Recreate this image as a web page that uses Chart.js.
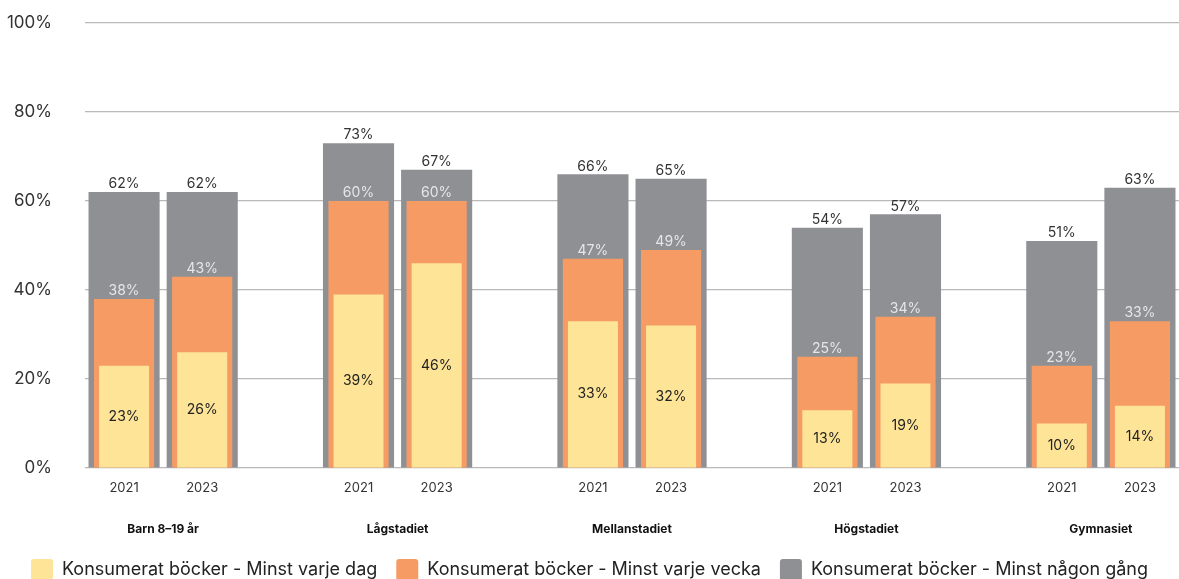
<!DOCTYPE html>
<html>
<head>
<meta charset="utf-8">
<script src="https://cdn.jsdelivr.net/npm/chart.js@4"></script>
<style>
  html, body { margin: 0; padding: 0; background: #fff; }
  #wrap { width: 1179px; height: 579px; position: relative; }
</style>
</head>
<body>
<div id="wrap"><canvas id="chart"></canvas></div>
<script>
// categories: 2 years per group, empty slot between groups
var years = ['2021', '2023', '', '2021', '2023', '', '2021', '2023', '', '2021', '2023', '', '2021', '2023'];
var groups = ['Barn 8\u201319 år', 'Lågstadiet', 'Mellanstadiet', 'Högstadiet', 'Gymnasiet'];

var daily  = [23, 26, null, 39, 46, null, 33, 32, null, 13, 19, null, 10, 14];
var weekly = [38, 43, null, 60, 60, null, 47, 49, null, 25, 34, null, 23, 33];
var any    = [62, 62, null, 73, 67, null, 66, 65, null, 54, 57, null, 51, 63];

var yTicks = [0, 20, 40, 60, 80, 100];

var FONT = 'Inter, "Noto Sans", sans-serif';

// value labels: yellow centred, orange + gray above the bar top
var valueLabels = {
    id: 'valueLabels',
    afterDatasetsDraw: function(chart) {
        var ctx = chart.ctx;
        ctx.save();
        ctx.font = '14px ' + FONT;
        ctx.textAlign = 'center';
        chart.data.datasets.forEach(function(ds, di) {
            var meta = chart.getDatasetMeta(di);
            meta.data.forEach(function(bar, i) {
                var v = ds.data[i];
                if (v == null) return;
                if (di === 0) {
                    ctx.fillStyle = '#222';
                    ctx.textBaseline = 'middle';
                    ctx.fillText(v + '%', bar.x, (bar.y + bar.base) / 2);
                } else {
                    ctx.fillStyle = di === 1 ? '#e6e6e6' : '#333';
                    ctx.textBaseline = 'bottom';
                    ctx.fillText(v + '%', bar.x, bar.y - 1);
                }
            });
        });
        ctx.restore();
    }
};

// group names under the year ticks
var groupLabels = {
    id: 'groupLabels',
    afterDraw: function(chart) {
        var ctx = chart.ctx;
        var xs = chart.scales.x;
        ctx.save();
        ctx.font = 'bold 12px ' + FONT;
        ctx.fillStyle = '#111';
        ctx.textAlign = 'center';
        ctx.textBaseline = 'middle';
        groups.forEach(function(g, i) {
            var x = (xs.getPixelForValue(i * 3) + xs.getPixelForValue(i * 3 + 1)) / 2;
            ctx.fillText(g, x, xs.top + 61);
        });
        ctx.restore();
    }
};

var data = {
    labels: years,
    datasets: [
        {
            label: 'Konsumerat böcker - Minst varje dag',
            data: daily,
            backgroundColor: '#fde497',
            barPercentage: 0.64,
            categoryPercentage: 1,
            grouped: false
        },
        {
            label: 'Konsumerat böcker - Minst varje vecka',
            data: weekly,
            backgroundColor: '#f79b65',
            barPercentage: 0.77,
            categoryPercentage: 1,
            grouped: false
        },
        {
            label: 'Konsumerat böcker - Minst någon gång',
            data: any,
            backgroundColor: '#8e9094',
            barPercentage: 0.91,
            categoryPercentage: 1,
            grouped: false
        }
    ]
};

new Chart(document.getElementById('chart'), {
    type: 'bar',
    data: data,
    options: {
        responsive: true,
        maintainAspectRatio: false,
        animation: false,
        layout: { padding: { top: 23, right: 0, left: 0, bottom: -12 } },
        plugins: {
            legend: {
                position: 'bottom',
                labels: {
                    boxWidth: 22,
                    boxHeight: 22,
                    useBorderRadius: true,
                    borderRadius: 3,
                    padding: 19,
                    color: '#222',
                    font: { family: FONT, size: 18 }
                }
            },
            tooltip: { enabled: false }
        },
        scales: {
            x: {
                grid: { display: false },
                border: { display: false },
                ticks: {
                    color: '#333',
                    padding: 4,
                    maxRotation: 0,
                    autoSkip: false,
                    font: { family: FONT, size: 13 }
                },
                afterFit: function(scale) { scale.height = 72; }
            },
            y: {
                min: 0,
                max: 100,
                afterBuildTicks: function(scale) {
                    scale.ticks = yTicks.map(function(v) { return { value: v }; });
                },
                grid: { color: '#b9b9b9', lineWidth: 1.2, drawTicks: true, tickLength: 33, tickColor: 'rgba(0,0,0,0)' },
                border: { display: false },
                ticks: {
                    color: '#333',
                    padding: 0,
                    font: { family: FONT, size: 17 },
                    callback: function(v) { return v + '%'; }
                },
                afterFit: function(scale) { scale.width = 85; }
            }
        }
    },
    plugins: [valueLabels, groupLabels]
});
</script>
</body>
</html>
